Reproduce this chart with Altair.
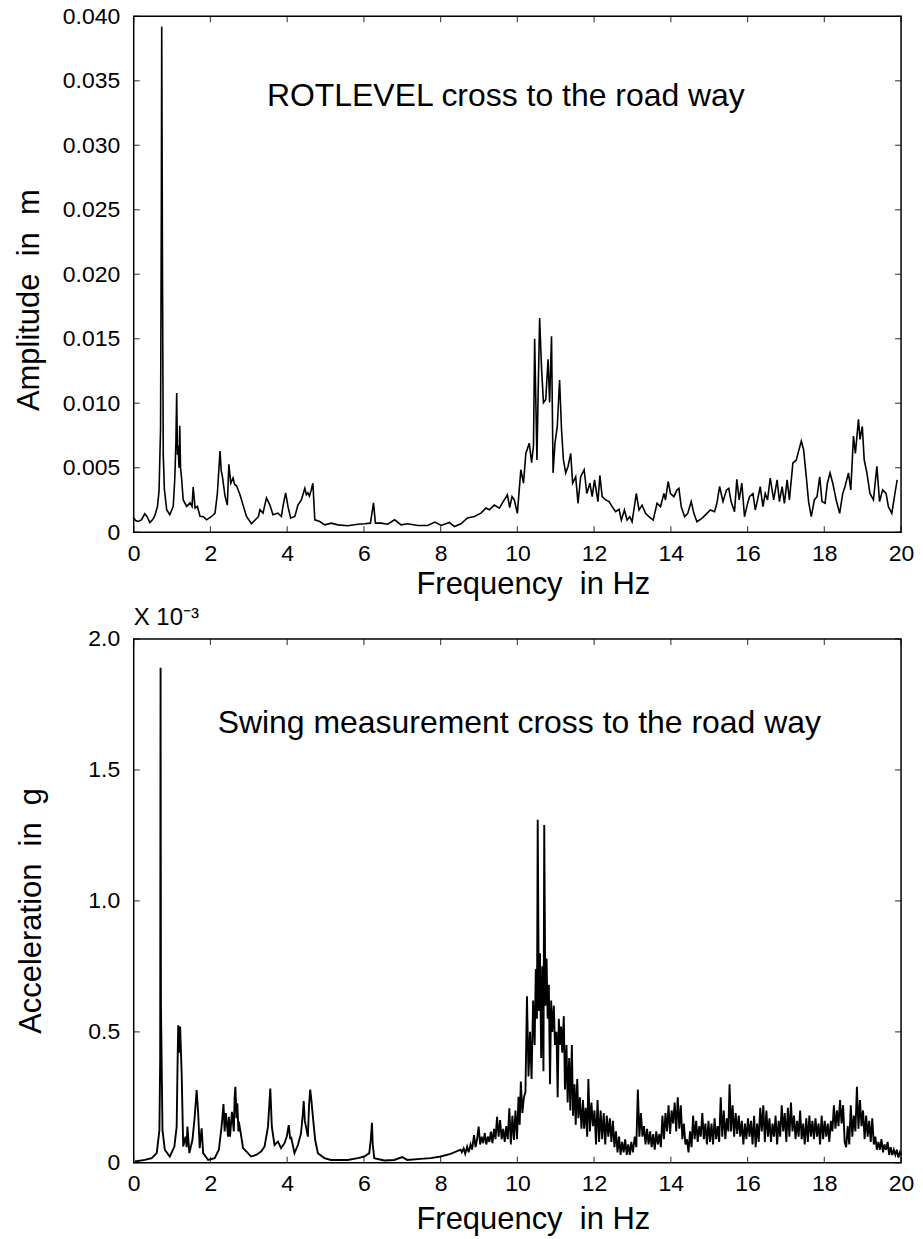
import altair as alt
import pandas as pd

FONT = "Liberation Sans"
NB = "\u00a0"

# ---------------- top panel: ROTLEVEL amplitude spectrum (m) ----------------
top_freq = [0.00, 0.05, 0.12, 0.20, 0.29, 0.35, 0.42, 0.50, 0.55, 0.62, 0.66, 0.70, 0.72, 0.73, 0.75, 0.77, 0.80,
            0.86, 0.94, 1.03, 1.07, 1.10, 1.12, 1.14, 1.16, 1.18, 1.20, 1.22, 1.25, 1.29, 1.38, 1.47, 1.52, 1.55,
            1.60, 1.66, 1.73, 1.81, 1.90, 2.03, 2.12, 2.18, 2.25, 2.28, 2.31, 2.38, 2.44, 2.48, 2.53, 2.59, 2.63,
            2.68, 2.77, 2.85, 2.94, 3.07, 3.17, 3.25, 3.29, 3.37, 3.46, 3.55, 3.63, 3.76, 3.85, 3.89, 3.96, 4.02,
            4.09, 4.20, 4.28, 4.37, 4.46, 4.50, 4.54, 4.58, 4.63, 4.67, 4.72, 4.85, 4.98, 5.15, 5.32, 5.58, 5.84,
            6.02, 6.17, 6.25, 6.30, 6.45, 6.62, 6.80, 6.97, 7.14, 7.40, 7.66, 7.85, 8.01, 8.23, 8.36, 8.53, 8.70,
            8.88, 9.05, 9.18, 9.27, 9.40, 9.53, 9.61, 9.74, 9.80, 9.86, 9.92, 10.00, 10.09, 10.16, 10.22, 10.31,
            10.37, 10.42, 10.45, 10.51, 10.54, 10.58, 10.63, 10.68, 10.74, 10.80, 10.84, 10.89, 10.93, 10.98,
            11.04, 11.10, 11.15, 11.20, 11.26, 11.32, 11.39, 11.44, 11.52, 11.58, 11.65, 11.74, 11.81, 11.89,
            11.95, 12.01, 12.10, 12.15, 12.21, 12.30, 12.39, 12.47, 12.56, 12.65, 12.71, 12.79, 12.86, 12.93,
            12.99, 13.10, 13.17, 13.25, 13.34, 13.43, 13.54, 13.64, 13.73, 13.82, 13.86, 13.93, 13.99, 14.08,
            14.16, 14.21, 14.27, 14.36, 14.44, 14.53, 14.60, 14.68, 14.81, 14.94, 15.03, 15.14, 15.20, 15.27,
            15.36, 15.45, 15.51, 15.57, 15.66, 15.72, 15.78, 15.85, 15.92, 15.99, 16.05, 16.14, 16.20, 16.26,
            16.33, 16.40, 16.46, 16.52, 16.59, 16.68, 16.77, 16.83, 16.90, 16.96, 17.03, 17.09, 17.18, 17.27,
            17.34, 17.40, 17.46, 17.53, 17.59, 17.66, 17.74, 17.81, 17.88, 17.94, 18.02, 18.08, 18.15, 18.22,
            18.31, 18.40, 18.48, 18.54, 18.63, 18.69, 18.76, 18.81, 18.89, 18.93, 18.99, 19.04, 19.11, 19.19,
            19.28, 19.37, 19.44, 19.52, 19.61, 19.67, 19.76, 19.84, 19.90]
top_amp = [0.00110, 0.00090, 0.00083, 0.00095, 0.00143, 0.00120, 0.00075, 0.00100, 0.00128, 0.00200, 0.00320,
           0.00800, 0.02500, 0.03920, 0.02000, 0.00600, 0.00330, 0.00174, 0.00135, 0.00200, 0.00410, 0.00700,
           0.01080, 0.00600, 0.00670, 0.00500, 0.00825, 0.00500, 0.00410, 0.00250, 0.00200, 0.00227, 0.00200,
           0.00350, 0.00187, 0.00200, 0.00122, 0.00122, 0.00096, 0.00122, 0.00148, 0.00300, 0.00630, 0.00480,
           0.00435, 0.00280, 0.00210, 0.00526, 0.00380, 0.00420, 0.00370, 0.00360, 0.00290, 0.00210, 0.00122,
           0.00065, 0.00096, 0.00120, 0.00174, 0.00148, 0.00266, 0.00210, 0.00135, 0.00148, 0.00122, 0.00200,
           0.00305, 0.00200, 0.00110, 0.00122, 0.00210, 0.00250, 0.00340, 0.00290, 0.00305, 0.00280, 0.00330,
           0.00380, 0.00096, 0.00083, 0.00057, 0.00070, 0.00057, 0.00050, 0.00062, 0.00065, 0.00070, 0.00227,
           0.00070, 0.00070, 0.00062, 0.00096, 0.00057, 0.00065, 0.00052, 0.00052, 0.00078, 0.00052, 0.00075,
           0.00044, 0.00065, 0.00110, 0.00122, 0.00148, 0.00187, 0.00174, 0.00210, 0.00187, 0.00227, 0.00290,
           0.00190, 0.00276, 0.00250, 0.00146, 0.00484, 0.00380, 0.00610, 0.00690, 0.00540, 0.00670, 0.01500,
           0.00560, 0.01060, 0.01660, 0.01270, 0.01005, 0.01030, 0.01340, 0.01005, 0.01520, 0.00460, 0.00690,
           0.00820, 0.01180, 0.00800, 0.00560, 0.00460, 0.00510, 0.00610, 0.00380, 0.00430, 0.00224, 0.00430,
           0.00484, 0.00300, 0.00380, 0.00276, 0.00406, 0.00237, 0.00440, 0.00276, 0.00250, 0.00237, 0.00198,
           0.00159, 0.00177, 0.00094, 0.00172, 0.00094, 0.00120, 0.00081, 0.00300, 0.00172, 0.00210, 0.00146,
           0.00120, 0.00094, 0.00224, 0.00198, 0.00300, 0.00250, 0.00393, 0.00300, 0.00276, 0.00328, 0.00340,
           0.00198, 0.00120, 0.00146, 0.00237, 0.00146, 0.00081, 0.00107, 0.00146, 0.00172, 0.00159, 0.00224,
           0.00354, 0.00237, 0.00328, 0.00340, 0.00237, 0.00159, 0.00410, 0.00250, 0.00380, 0.00120, 0.00210,
           0.00276, 0.00300, 0.00172, 0.00250, 0.00354, 0.00198, 0.00300, 0.00250, 0.00420, 0.00250, 0.00406,
           0.00237, 0.00354, 0.00224, 0.00406, 0.00250, 0.00536, 0.00560, 0.00640, 0.00706, 0.00640, 0.00430,
           0.00237, 0.00120, 0.00250, 0.00276, 0.00430, 0.00237, 0.00224, 0.00380, 0.00460, 0.00380, 0.00250,
           0.00146, 0.00300, 0.00354, 0.00460, 0.00328, 0.00745, 0.00610, 0.00875, 0.00720, 0.00820, 0.00560,
           0.00460, 0.00300, 0.00250, 0.00510, 0.00237, 0.00328, 0.00300, 0.00198, 0.00146, 0.00300, 0.00406]

# ---------------- bottom panel: swing acceleration spectrum (x 10^-3 g) ----------------
bot_freq = [0.03, 0.29, 0.47, 0.60, 0.67, 0.69, 0.70, 0.71, 0.75, 0.81, 0.94, 1.06, 1.12, 1.14, 1.16, 1.19, 1.21,
            1.25, 1.29, 1.35, 1.38, 1.40, 1.45, 1.53, 1.59, 1.64, 1.68, 1.72, 1.77, 1.81, 1.94, 2.11, 2.22, 2.29,
            2.34, 2.37, 2.40, 2.46, 2.48, 2.51, 2.56, 2.61, 2.63, 2.65, 2.68, 2.70, 2.73, 2.74, 2.79, 2.85, 2.94,
            3.06, 3.19, 3.32, 3.41, 3.50, 3.56, 3.60, 3.67, 3.76, 3.84, 3.93, 3.99, 4.04, 4.08, 4.10, 4.19, 4.28,
            4.36, 4.41, 4.43, 4.46, 4.49, 4.54, 4.57, 4.60, 4.63, 4.67, 4.73, 4.80, 4.97, 5.14, 5.58, 5.84, 6.01,
            6.14, 6.18, 6.21, 6.23, 6.27, 6.53, 6.79, 7.00, 7.13, 7.48, 7.74, 8.00, 8.26, 8.52,
            8.55, 8.60, 8.64, 8.69, 8.73, 8.78, 8.82, 8.87, 8.91, 8.95, 8.99, 9.03, 9.07, 9.11, 9.15, 9.19, 9.23,
            9.27, 9.31, 9.35, 9.39, 9.43, 9.47, 9.51, 9.55, 9.59, 9.63, 9.67, 9.71, 9.75, 9.79, 9.83, 9.87, 9.91,
            9.95, 9.99, 10.03, 10.06, 10.09, 10.13, 10.17, 10.21, 10.25, 10.29, 10.33, 10.37, 10.41, 10.45, 10.48,
            10.51, 10.53, 10.56, 10.59, 10.62, 10.65, 10.68, 10.70, 10.73, 10.76, 10.79, 10.82, 10.85, 10.88,
            10.91, 10.95, 10.98, 11.02, 11.05, 11.08, 11.11, 11.14, 11.17, 11.21, 11.24, 11.28, 11.31, 11.35,
            11.38, 11.42, 11.45, 11.49, 11.52, 11.56, 11.59, 11.63, 11.67, 11.71, 11.74, 11.78, 11.82, 11.85,
            11.89, 11.93, 11.97, 12.01, 12.05, 12.09, 12.13, 12.17, 12.21, 12.25, 12.29, 12.33, 12.37, 12.41,
            12.45, 12.49, 12.53, 12.57, 12.61, 12.65, 12.69, 12.73, 12.77, 12.81, 12.85, 12.89, 12.93, 12.97,
            13.01, 13.06, 13.10, 13.14, 13.18, 13.22, 13.26, 13.30, 13.34, 13.38, 13.42, 13.46, 13.50, 13.54,
            13.58, 13.62, 13.66, 13.70, 13.74, 13.78, 13.82, 13.86, 13.90, 13.94, 13.98, 14.02, 14.06, 14.10,
            14.14, 14.18, 14.22, 14.26, 14.30, 14.34, 14.38, 14.42, 14.46, 14.50, 14.54, 14.58, 14.62, 14.66,
            14.70, 14.74, 14.78, 14.82, 14.86, 14.90, 14.94, 14.98, 15.02, 15.06, 15.10, 15.14, 15.18, 15.22,
            15.26, 15.30, 15.34, 15.38, 15.42, 15.46, 15.50, 15.53, 15.57, 15.61, 15.65, 15.69, 15.73, 15.77,
            15.81, 15.85, 15.89, 15.93, 15.97, 16.01, 16.05, 16.09, 16.13, 16.17, 16.21, 16.25, 16.29, 16.33,
            16.37, 16.41, 16.45, 16.49, 16.53, 16.57, 16.61, 16.65, 16.69, 16.73, 16.77, 16.81, 16.85, 16.89,
            16.93, 16.97, 17.01, 17.05, 17.09, 17.13, 17.17, 17.21, 17.25, 17.29, 17.33, 17.37, 17.41, 17.45,
            17.49, 17.53, 17.57, 17.61, 17.65, 17.69, 17.73, 17.77, 17.81, 17.85, 17.89, 17.93, 17.97, 18.01,
            18.05, 18.09, 18.13, 18.17, 18.21, 18.25, 18.29, 18.33, 18.37, 18.41, 18.45, 18.49, 18.53, 18.57,
            18.61, 18.65, 18.69, 18.73, 18.77, 18.81, 18.85, 18.89, 18.93, 18.97, 19.01, 19.05, 19.09, 19.13,
            19.17, 19.21, 19.25, 19.29, 19.33, 19.37, 19.41, 19.45, 19.49, 19.53, 19.57, 19.61, 19.65, 19.69,
            19.73, 19.77, 19.81, 19.85, 19.89, 19.93, 19.97, 20.00]
bot_acc = [0.005, 0.011, 0.018, 0.037, 0.125, 0.40, 1.89, 0.60, 0.125, 0.050, 0.024, 0.062, 0.138, 0.35, 0.525,
           0.42, 0.52, 0.34, 0.062, 0.10, 0.06, 0.138, 0.037, 0.087, 0.176, 0.278, 0.19, 0.056, 0.132, 0.037,
           0.011, 0.018, 0.050, 0.138, 0.224, 0.12, 0.19, 0.10, 0.176, 0.10, 0.195, 0.12, 0.25, 0.29, 0.17,
           0.227, 0.12, 0.157, 0.113, 0.056, 0.043, 0.024, 0.030, 0.043, 0.062, 0.138, 0.284, 0.138, 0.068,
           0.081, 0.056, 0.075, 0.10, 0.144, 0.09, 0.10, 0.037, 0.068, 0.113, 0.19, 0.236, 0.16, 0.138, 0.10,
           0.22, 0.28, 0.24, 0.176, 0.087, 0.037, 0.018, 0.011, 0.011, 0.018, 0.024, 0.037, 0.09, 0.153, 0.07,
           0.018, 0.009, 0.011, 0.022, 0.011, 0.015, 0.018, 0.024, 0.034, 0.050,
           0.04, 0.055, 0.035, 0.062, 0.04, 0.07, 0.05, 0.106, 0.06, 0.09, 0.138, 0.07, 0.10, 0.075, 0.113,
           0.07, 0.10, 0.08, 0.119, 0.075, 0.13, 0.09, 0.176, 0.10, 0.163, 0.09, 0.13, 0.08, 0.14, 0.09, 0.208,
           0.07, 0.18, 0.087, 0.20, 0.09, 0.252, 0.145, 0.31, 0.19, 0.25, 0.27, 0.636, 0.33, 0.50, 0.32, 0.62,
           0.45, 0.74, 0.55, 1.31, 0.58, 0.80, 0.40, 0.75, 0.35, 1.29, 0.60, 0.78, 0.55, 0.68, 0.30, 0.62, 0.50,
           0.60, 0.45, 0.50, 0.25, 0.55, 0.45, 0.52, 0.42, 0.56, 0.28, 0.45, 0.23, 0.40, 0.20, 0.45, 0.18, 0.30,
           0.145, 0.32, 0.17, 0.25, 0.13, 0.24, 0.13, 0.21, 0.10, 0.32, 0.12, 0.23, 0.14, 0.20, 0.07, 0.24, 0.08,
           0.20, 0.09, 0.19, 0.07, 0.18, 0.10, 0.17, 0.08, 0.16, 0.06, 0.12, 0.04, 0.10, 0.03, 0.08, 0.04, 0.09,
           0.03, 0.07, 0.03, 0.08, 0.04, 0.10, 0.06, 0.28, 0.10, 0.19, 0.10, 0.14, 0.07, 0.13, 0.07, 0.12, 0.06,
           0.11, 0.05, 0.12, 0.07, 0.11, 0.06, 0.18, 0.09, 0.19, 0.12, 0.22, 0.11, 0.20, 0.15, 0.23, 0.12, 0.25,
           0.13, 0.22, 0.09, 0.15, 0.07, 0.09, 0.04, 0.12, 0.06, 0.18, 0.09, 0.16, 0.08, 0.14, 0.10, 0.19, 0.09,
           0.15, 0.07, 0.16, 0.08, 0.15, 0.07, 0.17, 0.09, 0.14, 0.08, 0.25, 0.10, 0.20, 0.09, 0.17, 0.12, 0.30,
           0.12, 0.22, 0.10, 0.19, 0.11, 0.18, 0.10, 0.16, 0.07, 0.15, 0.09, 0.17, 0.10, 0.16, 0.07, 0.18, 0.06,
           0.15, 0.08, 0.21, 0.12, 0.22, 0.08, 0.20, 0.10, 0.17, 0.08, 0.15, 0.10, 0.18, 0.07, 0.16, 0.10, 0.22,
           0.12, 0.19, 0.08, 0.21, 0.10, 0.23, 0.12, 0.18, 0.09, 0.16, 0.10, 0.20, 0.09, 0.15, 0.07, 0.17, 0.08,
           0.18, 0.10, 0.16, 0.09, 0.17, 0.10, 0.15, 0.07, 0.18, 0.09, 0.16, 0.10, 0.15, 0.08, 0.16, 0.12, 0.22,
           0.13, 0.20, 0.14, 0.24, 0.15, 0.22, 0.08, 0.06, 0.14, 0.07, 0.22, 0.10, 0.18, 0.12, 0.29, 0.13, 0.24,
           0.14, 0.20, 0.09, 0.18, 0.10, 0.16, 0.08, 0.17, 0.07, 0.10, 0.05, 0.08, 0.05, 0.09, 0.04, 0.07, 0.05,
           0.08, 0.03, 0.06, 0.03, 0.05, 0.03, 0.05, 0.02, 0.04, 0.03]

# ---------------- axes, ticks and annotations ----------------
x_ticks = [0, 2, 4, 6, 8, 10, 12, 14, 16, 18, 20]
top_y_ticks = [0.0, 0.005, 0.010, 0.015, 0.020, 0.025, 0.030, 0.035, 0.040]
bot_y_ticks = [0.0, 0.5, 1.0, 1.5, 2.0]
x_title = f"Frequency {NB}in Hz"
top_y_title = f"Amplitude {NB}in {NB}m"
bot_y_title = f"Acceleration {NB}in {NB}g"
top_label = ["ROTLEVEL cross to the road way"]
top_label_pos = [(9.7, 0.0338)]
bot_label = ["Swing measurement cross to the road way"]
bot_label_pos = [(10.05, 1.68)]

PW = 769


def panel(freq, vals, xdom, ydom, yticks, yfmt, ytitle, ytitle_pad, ytitle_y, xtitle_pad, height,
          label, label_pos, stroke_w, title=None):
    xs = alt.Scale(domain=xdom, nice=False, zero=False)
    ys = alt.Scale(domain=ydom, nice=False, zero=False)
    xaxis = alt.Axis(values=x_ticks, title=x_title, labelFlush=False, labelOverlap=False,
                     labelPadding=10, titlePadding=xtitle_pad, titleX=400, format="d")
    yaxis = alt.Axis(values=yticks, title=ytitle, labelFlush=False, labelOverlap=False,
                     labelPadding=14, titlePadding=ytitle_pad, titleY=ytitle_y,
                     labelExpr=f"datum.value == 0 ? '0' : format(datum.value, '{yfmt}')")
    df = pd.DataFrame({"freq": freq, "amp": vals})
    line = alt.Chart(df).mark_line(color="black", strokeWidth=stroke_w).encode(
        x=alt.X("freq:Q", scale=xs, axis=xaxis),
        y=alt.Y("amp:Q", scale=ys, axis=yaxis),
    )
    xt = pd.DataFrame({"freq": x_ticks})
    yt = pd.DataFrame({"amp": yticks})
    tick_kw = dict(color="black", size=6, thickness=1.2)
    tick_bottom = alt.Chart(xt).mark_tick(orient="vertical", yOffset=-3, **tick_kw).encode(
        x=alt.X("freq:Q", scale=xs, axis=xaxis), y=alt.YDatum(ydom[0], axis=yaxis, title=ytitle))
    tick_top = alt.Chart(xt).mark_tick(orient="vertical", yOffset=3, **tick_kw).encode(
        x=alt.X("freq:Q", scale=xs, axis=xaxis), y=alt.YDatum(ydom[1], axis=yaxis, title=ytitle))
    tick_left = alt.Chart(yt).mark_tick(orient="horizontal", xOffset=3, **tick_kw).encode(
        y=alt.Y("amp:Q", scale=ys, axis=yaxis), x=alt.XDatum(xdom[0], axis=xaxis, title=x_title))
    tick_right = alt.Chart(yt).mark_tick(orient="horizontal", xOffset=-3, **tick_kw).encode(
        y=alt.Y("amp:Q", scale=ys, axis=yaxis), x=alt.XDatum(xdom[1], axis=xaxis, title=x_title))
    ann = pd.DataFrame({"freq": [p[0] for p in label_pos], "amp": [p[1] for p in label_pos],
                        "text": label})
    text = alt.Chart(ann).mark_text(font=FONT, fontSize=32, color="black", align="center",
                                    baseline="middle").encode(
        x=alt.X("freq:Q", scale=xs, axis=xaxis), y=alt.Y("amp:Q", scale=ys, axis=yaxis), text="text:N")
    ch = alt.layer(line, tick_bottom, tick_top, tick_left, tick_right, text).properties(
        width=PW, height=height)
    if title is not None:
        ch = ch.properties(title=title)
    return ch


top = panel(top_freq, top_amp, [0, 20], [0, 0.040], top_y_ticks, ".3f", top_y_title,
            17, 284, 4, 517, top_label, top_label_pos, 1.6)
bottom = panel(bot_freq, bot_acc, [0, 20], [0, 2.0], bot_y_ticks, ".1f", bot_y_title,
               40, 272, 9, 525, bot_label, bot_label_pos, 1.9,
               title=alt.TitleParams(text="X 10\u207b\u00b3", anchor="start", frame="group", fontSize=24,
                                     fontWeight="normal", font=FONT, color="black", offset=-2))

chart = alt.vconcat(top, bottom, spacing=5).properties(
    padding={"left": 12, "top": 3, "right": 8, "bottom": 4},
    background="white",
).configure_view(stroke="black", strokeWidth=1.5).configure_axis(
    ticks=False, domain=False, grid=False,
    labelFont=FONT, labelFontSize=23, labelColor="black",
    titleFont=FONT, titleFontSize=31, titleFontWeight="normal", titleColor="black",
)

chart.save("out.html", embed_options={"renderer": "svg", "actions": False})
